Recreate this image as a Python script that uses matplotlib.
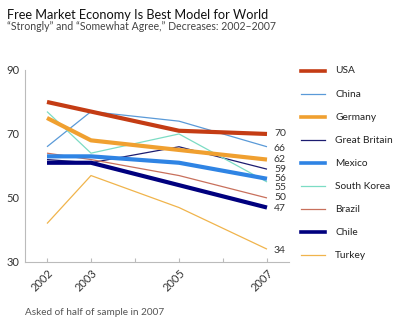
import matplotlib.pyplot as plt
from matplotlib.lines import Line2D

plt.rcParams['font.family'] = ['Lato', 'DejaVu Sans']

# survey years and share agreeing (%)
years = [2002, 2003, 2005, 2007]
countries = ['USA', 'China', 'Germany', 'Great Britain', 'Mexico',
             'South Korea', 'Brazil', 'Chile', 'Turkey']
usa = [80, 77, 71, 70]
china = [66, 77, 74, 66]
germany = [75, 68, 65, 62]
great_britain = [62, 61, 66, 59]
mexico = [63, 63, 61, 56]
south_korea = [77, 64, 70, 55]
brazil = [64, 62, 57, 50]
chile = [61, 61, 54, 47]
turkey = [42, 57, 47, 34]
series = [usa, china, germany, great_britain, mexico,
          south_korea, brazil, chile, turkey]

colors = ['#c43c14', '#5a9ad8', '#f0a030', '#1c1c70', '#2f84e4',
          '#7cdcc4', '#c8705c', '#00007e', '#f0b44c']
widths = [3.0, 0.9, 3.0, 0.9, 3.0, 0.9, 0.9, 3.0, 0.9]

# end labels, nudged apart so they don't collide
end_labels = [70, 66, 62, 59, 56, 55, 50, 47, 34]
label_y = [70, 65.6, 62, 58.9, 56.1, 53.4, 50.2, 46.7, 33.6]

fig = plt.figure(figsize=(4.0, 3.27), dpi=100)
ax = fig.add_axes([0.0625, 0.199, 0.66, 0.587])

# draw the thin lines under the thick ones
order = [1, 3, 5, 6, 8, 2, 4, 7, 0]
for i in order:
    ax.plot(years, series[i], color=colors[i], lw=widths[i],
            solid_capstyle='butt', zorder=3 + (widths[i] > 2))

for v, y in zip(end_labels, label_y):
    ax.annotate(str(v), (2007, y), xytext=(5, 0), textcoords='offset points',
                ha='left', va='center', fontsize=7.5, color='#333333',
                annotation_clip=False)

ax.set_xlim(2001.5, 2007.5)
ax.set_ylim(30, 90)
ax.set_yticks([30, 50, 70, 90])
ax.set_xticks(range(2002, 2008))
ax.set_xticklabels(['2002', '2003', '', '2005', '', '2007'],
                   rotation=45, ha='right', rotation_mode='anchor')
ax.tick_params(axis='both', labelsize=8, colors='#333333', length=3,
               color='#bbbbbb', width=0.8)
ax.tick_params(axis='x', direction='in', pad=4)
ax.tick_params(axis='y', length=0, pad=4)
for s in ['top', 'right']:
    ax.spines[s].set_visible(False)
for s in ['left', 'bottom']:
    ax.spines[s].set_color('#bbbbbb')
    ax.spines[s].set_linewidth(0.8)

# legend column on the right
for k, name in enumerate(countries):
    y = 0.783 - k * 0.0705
    fig.add_artist(Line2D([0.752, 0.813], [y, y], color=colors[k],
                          lw=min(widths[k], 2.6), transform=fig.transFigure))
    fig.text(0.838, y, name, fontsize=7.3, va='center', color='#222222')

fig.text(0.018, 0.955, 'Free Market Economy Is Best Model for World',
         fontsize=9.2, va='center', color='#111111')
fig.text(0.018, 0.918, '\u201cStrongly\u201d and \u201cSomewhat Agree,\u201d Decreases: 2002\u20132007',
         fontsize=7.6, va='center', color='#444444')
fig.text(0.063, 0.045, 'Asked of half of sample in 2007',
         fontsize=7.2, va='center', color='#555555')

fig.savefig('out.png', dpi=100)
